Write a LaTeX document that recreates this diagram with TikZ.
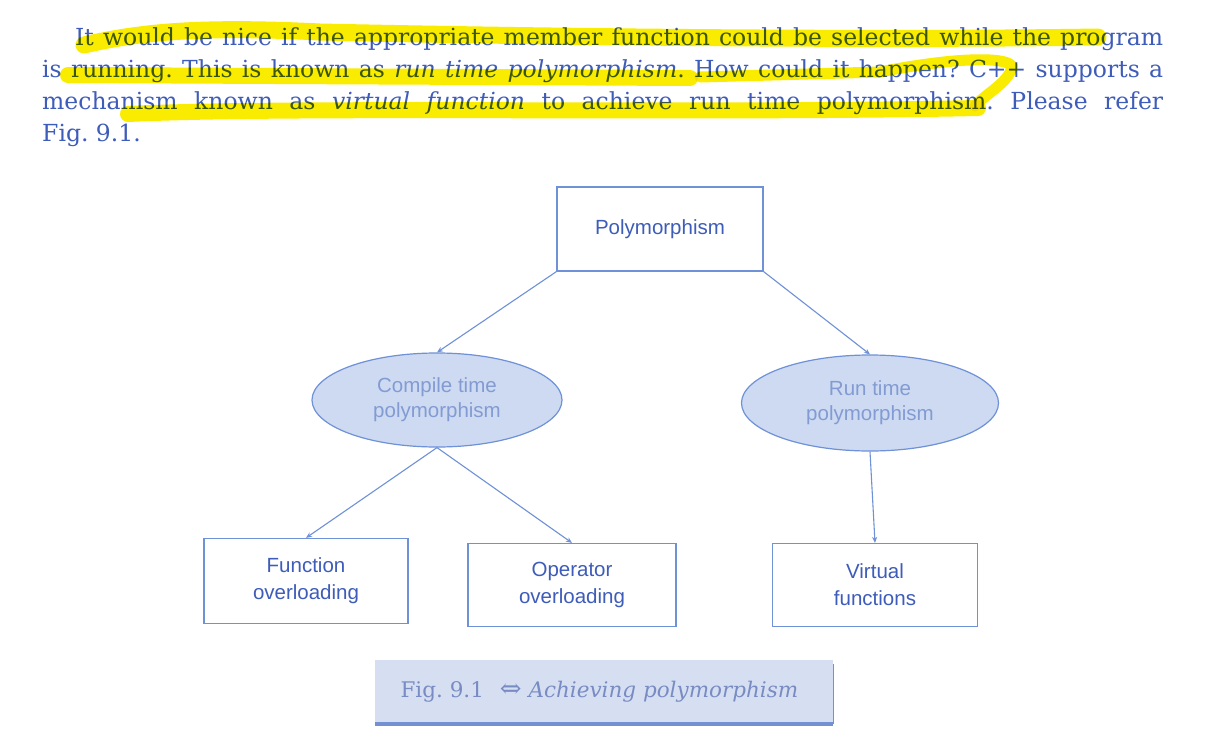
\documentclass[tikz,border=0pt]{standalone}
\usepackage{fontspec}
\setmainfont{DejaVu Serif}
\newfontfamily\diagfont{Liberation Sans}
\usetikzlibrary{arrows.meta,shapes.geometric}
\definecolor{inkblue}{RGB}{62,92,185}
\definecolor{lineblue}{RGB}{110,145,215}
\definecolor{softblue}{RGB}{130,155,210}
\definecolor{ellfill}{RGB}{205,218,242}
\definecolor{capfill}{RGB}{214,222,242}
\definecolor{capedge}{RGB}{115,145,210}
\definecolor{captext}{RGB}{120,140,195}
\definecolor{marker}{RGB}{250,236,0}
\tikzset{
  box/.style={draw=lineblue, line width=1.2pt, rectangle, inner sep=0pt,
    text=inkblue, font=\diagfont\fontsize{20.5}{27}\selectfont, align=center},
  ovalnode/.style={draw=lineblue, line width=1.2pt, ellipse, fill=ellfill,
    inner sep=0pt, text=softblue, font=\diagfont\fontsize{20.5}{25}\selectfont, align=center},
  link/.style={draw=lineblue, line width=1.1pt, -{Stealth[length=6pt,width=5pt]}},
  hilite/.style={draw=marker, line cap=round, line join=round},
}
\begin{document}
\begin{tikzpicture}[x=1pt,y=-1pt]
\useasboundingbox (0,0) rectangle (1210,742);
\fill[white] (0,0) rectangle (1210,742);

% body paragraph
\node[anchor=north west, inner sep=0pt, text width=1121pt, align=justify,
      text=inkblue, font=\fontsize{23.5}{32}\selectfont\frenchspacing] (para) at (42,27)
 {\hspace*{33pt}It would be nice if the appropriate member function could be selected while the program\linebreak
  is running. This is known as \textit{run time polymorphism}. How could it happen? C++ supports a\linebreak
  mechanism known as \textit{virtual function} to achieve run time polymorphism. Please refer\linebreak
  Fig.~9.1.\hfill\null};

% marker strokes over the paragraph
\begin{scope}[blend mode=multiply]
  \draw[hilite, line width=17pt] (84,45) .. controls (140,32) and (200,26) .. (320,32)
        .. controls (600,38) and (900,40) .. (1098,37);
  \draw[hilite, line width=16pt] (68,75) -- (690,78);
  \draw[hilite, line width=11pt] (700,77) -- (880,72) .. controls (950,58) and (1005,56) .. (1012,66)
        .. controls (1010,82) and (985,94) .. (975,106);
  \draw[hilite, line width=16pt] (128,114) .. controls (300,106) and (700,114) .. (978,108);
\end{scope}

% diagram nodes
\node[box, minimum width=206pt, minimum height=84pt] (poly) at (660,229) {Polymorphism};
\node[ovalnode, minimum width=250pt, minimum height=94pt] (ctp) at (437,400)
  {Compile time\\polymorphism};
\node[ovalnode, minimum width=257pt, minimum height=96pt] (rtp) at (870,403)
  {Run time\\polymorphism};
\node[box, minimum width=204pt, minimum height=85pt] (fo) at (306,581)
  {Function\\overloading};
\node[box, minimum width=208pt, minimum height=83pt] (oo) at (572,585)
  {Operator\\overloading};
\node[box, minimum width=205pt, minimum height=83pt] (vf) at (875,585)
  {Virtual\\functions};

% connectors
\draw[link] (poly.south west) -- (ctp.north);
\draw[link] (poly.south east) -- (rtp.north);
\draw[link] (ctp.south) -- (fo.north);
\draw[link] (ctp.south) -- (oo.north);
\draw[link] (rtp.south) -- (vf.north);

% caption plate
\node[anchor=north west, fill=capfill, minimum width=458pt, minimum height=64pt,
      inner sep=0pt] (cap) at (375,660) {};
\draw[capedge, line width=4pt] (cap.south west) -- (cap.south east);
\draw[capedge, line width=1.5pt] ([yshift=-4pt]cap.north east) -- (cap.south east);
\node[text=captext, font=\fontsize{21.5}{24}\selectfont, anchor=west] (captxt)
  at ([xshift=22pt]cap.west) {Fig.~9.1\hspace{16pt}{\fontsize{26}{24}\selectfont ⇔} \textit{Achieving polymorphism}};
\end{tikzpicture}
\end{document}
